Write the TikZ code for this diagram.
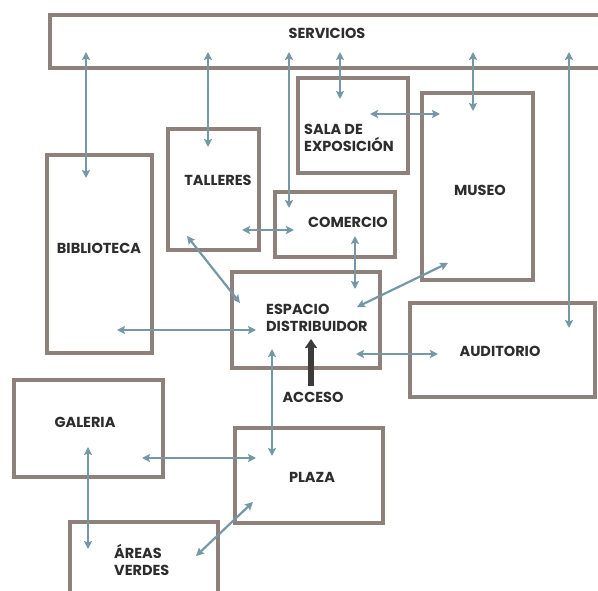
\documentclass[tikz,border=0pt]{standalone}
\usepackage{fontspec}
\setmainfont{Poppins}
\usetikzlibrary{arrows.meta}
\definecolor{boxc}{RGB}{142,128,122}
\definecolor{arrc}{RGB}{118,152,166}
\definecolor{accc}{RGB}{60,60,60}
\definecolor{txtc}{RGB}{45,45,45}
\tikzset{
  room/.style={draw=boxc, line width=3.6pt, inner sep=0pt},
  lab/.style={font=\fontsize{14.5}{17}\selectfont\bfseries, text=txtc, inner sep=0pt, align=left},
  conn/.style={draw=arrc, line width=2.2pt, {Stealth[length=8pt,width=8pt,inset=1.5pt]}-{Stealth[length=8pt,width=8pt,inset=1.5pt]}},
  acc/.style={draw=accc, line width=6.5pt, -{Stealth[length=9pt,width=12pt,inset=1pt]}}
}
\begin{document}
\begin{tikzpicture}[x=1pt,y=-1pt]
\useasboundingbox (0,0) rectangle (598,591);
\clip (0,0) rectangle (598,591);
\fill[white] (0,0) rectangle (598,591);
% boxes
\node[room, minimum width=560pt, minimum height=53pt] (serv) at (330,41.5) {};
\node[room, minimum width=105pt, minimum height=198pt] (bib) at (99.5,254) {};
\node[room, minimum width=91pt, minimum height=121pt] (tal) at (213.5,189.5) {};
\node[room, minimum width=120pt, minimum height=65pt] (com) at (335,224.5) {};
\node[room, minimum width=110pt, minimum height=95pt] (sala) at (353,125.5) {};
\node[room, minimum width=111pt, minimum height=187pt] (mus) at (477.5,186.5) {};
\node[room, minimum width=148pt, minimum height=96pt] (esp) at (306,320) {};
\node[room, minimum width=185pt, minimum height=94pt] (aud) at (502.5,350) {};
\node[room, minimum width=149pt, minimum height=97pt] (gal) at (88.5,428.5) {};
\node[room, minimum width=148pt, minimum height=95pt] (pla) at (309,475.5) {};
\node[room, minimum width=148pt, minimum height=90pt] (are) at (144,567) {};
% labels
\node[lab] (tserv) at (327,33) {SERVICIOS};
\node[lab] (tbib) at (99,248) {BIBLIOTECA};
\node[lab] (ttal) at (218,180) {TALLERES};
\node[lab] (tcom) at (348,222) {COMERCIO};
\node[lab, anchor=west] (tsala) at (304,137.5) {SALA DE\\EXPOSICIÓN};
\node[lab] (tmus) at (480,190) {MUSEO};
\node[lab, anchor=west] (tesp) at (266,317.5) {ESPACIO\\DISTRIBUIDOR};
\node[lab] (taud) at (500,351) {AUDITORIO};
\node[lab] (tgal) at (85,422) {GALERIA};
\node[lab] (tpla) at (312,477) {PLAZA};
\node[lab, anchor=west] (tare) at (114,560) {ÁREAS\\VERDES};
\node[lab] (tacc) at (313,397) {ACCESO};
% connector end points
\coordinate (a1) at (86,52);   \coordinate (b1) at (86,178);
\coordinate (a2) at (208,52);  \coordinate (b2) at (208,147);
\coordinate (a3) at (289,52);  \coordinate (b3) at (289,208);
\coordinate (a4) at (340,52);  \coordinate (b4) at (340,99);
\coordinate (a5) at (473,52);  \coordinate (b5) at (473,111);
\coordinate (a6) at (569,52);  \coordinate (b6) at (569,328);
\coordinate (a7) at (370,114); \coordinate (b7) at (440,114);
\coordinate (a8) at (242,230); \coordinate (b8) at (294,230);
\coordinate (a9) at (187,236); \coordinate (b9) at (240,303);
\coordinate (a10) at (355,236); \coordinate (b10) at (355,289);
\coordinate (a11) at (448,263); \coordinate (b11) at (357,307);
\coordinate (a12) at (117,330); \coordinate (b12) at (256,330);
\coordinate (a13) at (356,354); \coordinate (b13) at (438,354);
\coordinate (a14) at (272,349); \coordinate (b14) at (272,456);
\coordinate (a15) at (142,458); \coordinate (b15) at (256,458);
\coordinate (a16) at (88,447); \coordinate (b16) at (88,549);
\coordinate (a17) at (253,502); \coordinate (b17) at (196,556);
\coordinate (acc1) at (311,386); \coordinate (acc2) at (311,339);
% connectors
\draw[conn] (a1) -- (b1);
\draw[conn] (a2) -- (b2);
\draw[conn] (a3) -- (b3);
\draw[conn] (a4) -- (b4);
\draw[conn] (a5) -- (b5);
\draw[conn] (a6) -- (b6);
\draw[conn] (a7) -- (b7);
\draw[conn] (a8) -- (b8);
\draw[conn] (a9) -- (b9);
\draw[conn] (a10) -- (b10);
\draw[conn] (a11) -- (b11);
\draw[conn] (a12) -- (b12);
\draw[conn] (a13) -- (b13);
\draw[conn] (a14) -- (b14);
\draw[conn] (a15) -- (b15);
\draw[conn] (a16) -- (b16);
\draw[conn] (a17) -- (b17);
\draw[acc] (acc1) -- (acc2);
\end{tikzpicture}
\end{document}
